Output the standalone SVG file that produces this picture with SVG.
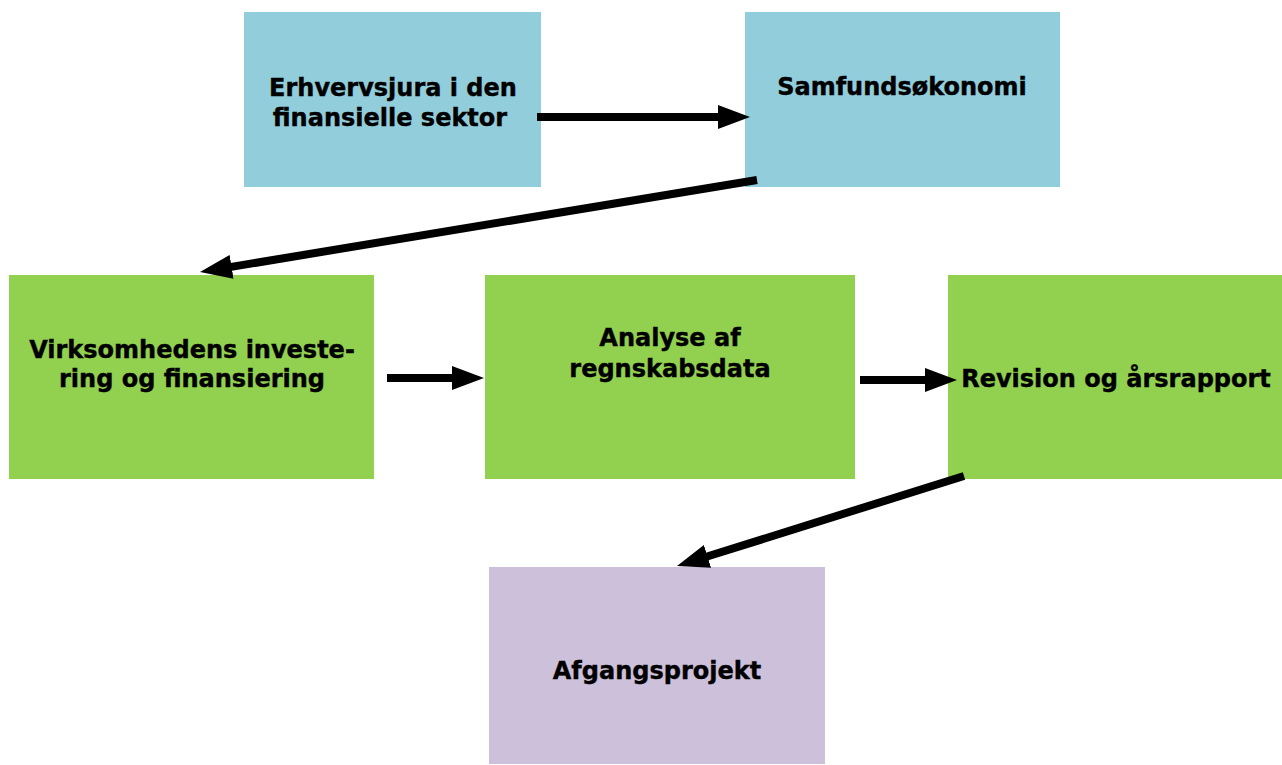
<svg xmlns="http://www.w3.org/2000/svg" width="1282" height="765" viewBox="0 0 1282 765">
<defs>
<marker id="ah" viewBox="0 0 4 3" markerWidth="4" markerHeight="3" refX="1" refY="1.5" orient="auto" markerUnits="strokeWidth">
<path d="M0,0 L4,1.5 L0,3 z" fill="#000"/>
</marker>
<style>
.blue{fill:#92CDDC}
.green{fill:#92D050}
.purple{fill:#CCC0DA}
.t{font-family:"DejaVu Sans",Verdana,sans-serif;font-weight:bold;font-size:24px;fill:#000;stroke:#000;stroke-width:0.4;text-anchor:middle}
.c{stroke:#000;stroke-width:8;fill:none;marker-end:url(#ah)}
</style>
</defs>
<rect width="1282" height="765" fill="#fff"/>
<g id="n1"><rect class="blue" x="244" y="12" width="297" height="175"/>
<text class="t" x="393" y="96">Erhvervsjura i den</text><text class="t" x="390" y="126">finansielle sektor</text></g>
<g id="n2"><rect class="blue" x="745" y="12" width="315" height="175"/>
<text class="t" x="902" y="95">Samfundsøkonomi</text></g>
<g id="n3"><rect class="green" x="9" y="275" width="365" height="204"/>
<text class="t" x="192" y="358">Virksomhedens investe-</text><text class="t" x="192" y="387">ring og finansiering</text></g>
<g id="n4"><rect class="green" x="485" y="275" width="370" height="204"/>
<text class="t" x="670" y="346">Analyse af</text><text class="t" x="670" y="377">regnskabsdata</text></g>
<g id="n5"><rect class="green" x="948" y="275" width="334" height="204"/>
<text class="t" x="1116" y="387">Revision og årsrapport</text></g>
<g id="n6"><rect class="purple" x="489" y="567" width="336" height="197"/>
<text class="t" x="657" y="679">Afgangsprojekt</text></g>
<g id="connectors">
<line class="c" x1="537" y1="117" x2="726" y2="117"/>
<line class="c" x1="757" y1="180" x2="223.7" y2="268.1"/>
<line class="c" x1="387" y1="378" x2="460" y2="378"/>
<line class="c" x1="860" y1="380" x2="933" y2="380"/>
<line class="c" x1="964" y1="476" x2="699.9" y2="558.8"/>
</g>
</svg>
